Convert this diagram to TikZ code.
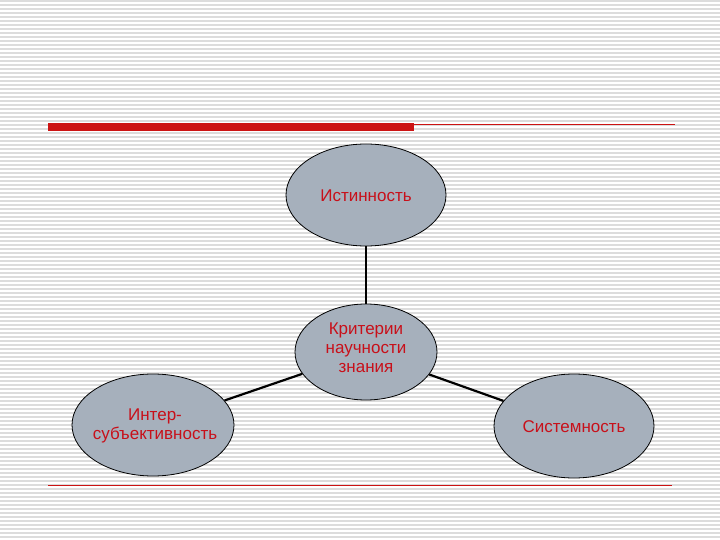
\documentclass[tikz,border=0pt]{standalone}
\usepackage{fontspec}
\setmainfont{Liberation Sans}
\begin{document}
\begin{tikzpicture}[x=1pt,y=-1pt,
  ell/.style={ellipse,draw=black,line width=0.8pt,fill=ellfill,inner sep=0pt},
  lbl/.style={text=txtred,font=\fontsize{17}{19}\selectfont,align=center},
  link/.style={line width=2.2pt,black}]
\usetikzlibrary{shapes.geometric}
\definecolor{ellfill}{HTML}{A6B0BC}
\definecolor{txtred}{HTML}{C8101A}
\definecolor{stripe}{HTML}{DCDCDC}
\definecolor{barred}{HTML}{CC1414}
\useasboundingbox (0,0) rectangle (720,540);
\fill[white] (0,0) rectangle (720,540);
\foreach \y in {1,5,...,540} \draw[stripe,line width=1.3pt] (0,\y) -- (720,\y);
\fill[barred] (48,123) rectangle (414,131);
\draw[barred,line width=0.7pt] (414,124) -- (675,124);
\draw[barred,line width=0.7pt] (48,485) -- (672,485);
\node[ell,minimum width=160,minimum height=102] (top) at (366,195) {};
\node[ell,minimum width=142,minimum height=96] (mid) at (366,352) {};
\node[ell,minimum width=162,minimum height=102] (left) at (153,425) {};
\node[ell,minimum width=160,minimum height=104] (right) at (574,426) {};
\draw[link] (top) -- (mid);
\draw[link] (mid) -- (left);
\draw[link] (mid) -- (right);
\node[lbl] at (366,196) {Истинность};
\node[lbl] at (366,348) {Критерии\\научности\\знания};
\node[lbl] at (155,426) {Интер-\\субъективность};
\node[lbl] at (574,427) {Системность};
\end{tikzpicture}
\end{document}
